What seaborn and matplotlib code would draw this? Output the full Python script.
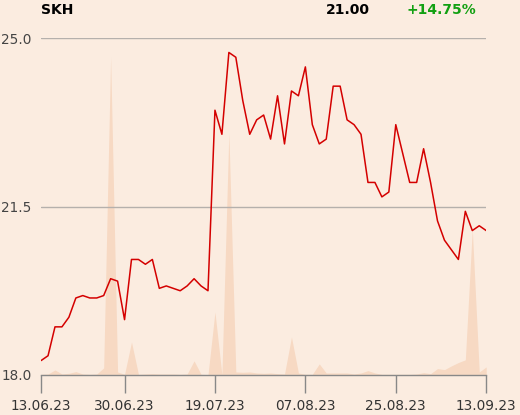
import matplotlib
matplotlib.use("Agg")
import matplotlib.pyplot as plt
import seaborn as sns
import pandas as pd
import numpy as np

# closing prices (trading days 13.06.23 - 13.09.23)
prices = [18.30, 18.40, 19.00, 19.00, 19.20, 19.60, 19.65, 19.60, 19.60, 19.65,
          20.00, 19.95, 19.15, 20.40, 20.40, 20.30, 20.40, 19.80, 19.85, 19.80,
          19.75, 19.85, 20.00, 19.85, 19.75, 23.50, 23.00, 24.70, 24.60, 23.70,
          23.00, 23.30, 23.40, 22.90, 23.80, 22.80, 23.90, 23.80, 24.40, 23.20,
          22.80, 22.90, 24.00, 24.00, 23.30, 23.20, 23.00, 22.00, 22.00, 21.70,
          21.80, 23.20, 22.60, 22.00, 22.00, 22.70, 22.00, 21.20, 20.80, 20.60,
          20.40, 21.40, 21.00, 21.10, 21.00]

# traded volume (thousands, estimated)
volume = [0.2, 0.3, 1.5, 0.3, 0.5, 1.0, 0.3, 0.2, 0.3, 2.1,
          94.4, 0.9, 0.2, 9.8, 0.2, 0.3, 0.4, 0.3, 0.3, 0.3,
          0.2, 0.3, 4.2, 0.2, 0.1, 18.7, 0.1, 72.0, 0.9, 0.8,
          0.9, 0.6, 0.5, 0.6, 0.4, 0.3, 11.3, 0.6, 0.2, 0.2,
          3.3, 0.6, 0.6, 0.6, 0.6, 0.3, 0.6, 1.3, 0.6, 0.2,
          0.2, 0.2, 0.2, 0.2, 0.3, 0.7, 0.4, 1.9, 1.6, 2.7,
          3.7, 4.5, 43.3, 0.9, 2.4]

tick_pos = [0, 12, 25, 38, 51, 64]
tick_labels = ["13.06.23", "30.06.23", "19.07.23", "07.08.23", "25.08.23", "13.09.23"]
y_ticks = [18.0, 21.5, 25.0]

df = pd.DataFrame({"day": np.arange(len(prices)), "price": prices, "volume": volume})

bg = "#FBECE0"
sns.set_style("white")
plt.rcParams["font.family"] = ["DejaVu Sans"]

fig = plt.figure(figsize=(5.2, 4.15), dpi=100, facecolor=bg)
ax = fig.add_axes([0.079, 0.0964, 0.856, 0.812])
ax2 = ax.twinx()

# volume as shaded area in the background
ax2.fill_between(df["day"], 0, df["volume"], color="#F7D9C3", linewidth=0)
ax2.set_ylim(0, 100)
ax2.axis("off")
ax2.set_facecolor(bg)

ax.set_zorder(ax2.get_zorder() + 1)
ax.patch.set_visible(False)

sns.lineplot(data=df, x="day", y="price", ax=ax, color="#D40000", linewidth=1.1)

ax.set_xlim(0, 64)
ax.set_ylim(18, 25)
ax.set_yticks(y_ticks)
ax.set_yticklabels([f"{v:.1f}" for v in y_ticks])
ax.set_xticks(tick_pos)
ax.set_xticklabels(tick_labels)
ax.set_xlabel("")
ax.set_ylabel("")

for v in y_ticks[1:]:
    ax.axhline(v, color="#B5B0AC", linewidth=1, zorder=0)

for s in ["top", "right", "left"]:
    ax.spines[s].set_visible(False)
ax.spines["bottom"].set_color("#888888")
ax.spines["bottom"].set_linewidth(1)

ax.tick_params(axis="x", length=13, width=1, color="#888888", labelcolor="#333333",
               labelsize=9.8, pad=4)
ax.tick_params(axis="y", length=0, labelcolor="#444444", labelsize=9.8, pad=7)
ax.tick_params(axis="x", bottom=True)

fig.text(41 / 520, 1 - 10 / 415, "SKH", fontsize=10, fontweight="bold", color="black",
         ha="left", va="center")
fig.text(370 / 520, 1 - 10 / 415, "21.00", fontsize=10, fontweight="bold", color="black",
         ha="right", va="center")
fig.text(476 / 520, 1 - 10 / 415, "+14.75%", fontsize=10, fontweight="bold", color="#12A012",
         ha="right", va="center")

fig.savefig("out.png", facecolor=bg)
